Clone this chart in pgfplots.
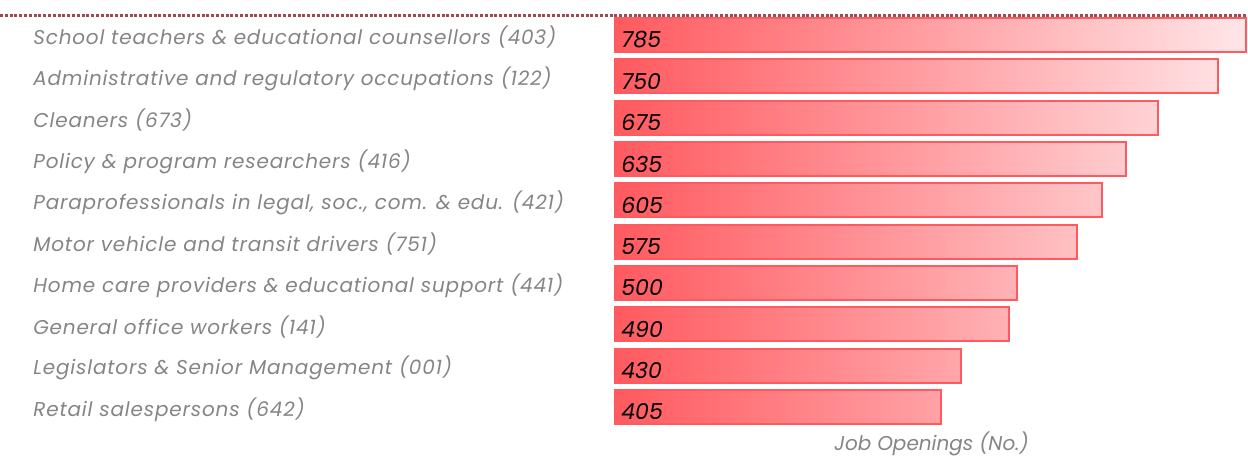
\documentclass[border=0pt]{standalone}
\usepackage{pgfplots}
\pgfplotsset{compat=1.18}
\usepackage{fontspec}
\setmainfont{Poppins}
\newfontfamily\lblfont[LetterSpace=4]{Poppins}
\definecolor{barred}{HTML}{FF5A5F}
\definecolor{barpink}{HTML}{FFE6E8}
\definecolor{dotred}{HTML}{9E4B4B}
\definecolor{lblgray}{HTML}{858585}
\begin{document}
\begin{tikzpicture}
\path[use as bounding box] (0pt,0pt) rectangle (624pt,-228.5pt);
\draw[dotred, line width=1.5pt, dash pattern=on 1.5pt off 0.9pt] (0pt,-7.5pt) -- (624pt,-7.5pt);
\begin{axis}[
  at={(307.5pt,-213.825pt)}, anchor=south west,
  scale only axis, width=316.5pt, height=206.65pt,
  xmin=0, xmax=787, ymin=-0.5, ymax=9.5, y dir=reverse,
  axis line style={draw=none}, tick style={draw=none},
  xtick=\empty, ytick={0,1,2,3,4,5,6,7,8,9},
  yticklabels={{School teachers \& educational counsellors (403)},
    {Administrative and regulatory occupations (122)},
    {Cleaners (673)},
    {Policy \& program researchers (416)},
    {Paraprofessionals in legal, soc., com. \& edu. (421)},
    {Motor vehicle and transit drivers (751)},
    {Home care providers \& educational support (441)},
    {General office workers (141)},
    {Legislators \& Senior Management (001)},
    {Retail salespersons (642)}},
  yticklabel style={anchor=west, xshift=-291pt, yshift=-1.2pt, font=\lblfont\itshape\fontsize{10}{12}\selectfont, text=lblgray, inner sep=0pt},
  xlabel={Job Openings (No.)},
  xlabel style={at={(axis description cs:0.5,0)}, anchor=center, yshift=-8.3pt, font=\itshape\fontsize{10}{12}\selectfont, text=lblgray, inner sep=0pt},
  clip=false,
]
\addplot[xbar, bar width=17pt, draw=barred, line width=1pt, left color=barred, right color=barpink] coordinates {
  (785,0) (750,1) (675,2) (635,3) (605,4) (575,5) (500,6) (490,7) (430,8) (405,9)};
\addplot[draw=none, mark=none, nodes near coords, point meta=explicit symbolic,
  every node near coord/.style={anchor=west, font=\itshape\fontsize{11}{13}\selectfont, text=black, inner sep=0pt, xshift=3pt, yshift=-2.5pt}]
  coordinates {(0,0) [785] (0,1) [750] (0,2) [675] (0,3) [635] (0,4) [605]
    (0,5) [575] (0,6) [500] (0,7) [490] (0,8) [430] (0,9) [405]};
\end{axis}
\end{tikzpicture}
\end{document}
